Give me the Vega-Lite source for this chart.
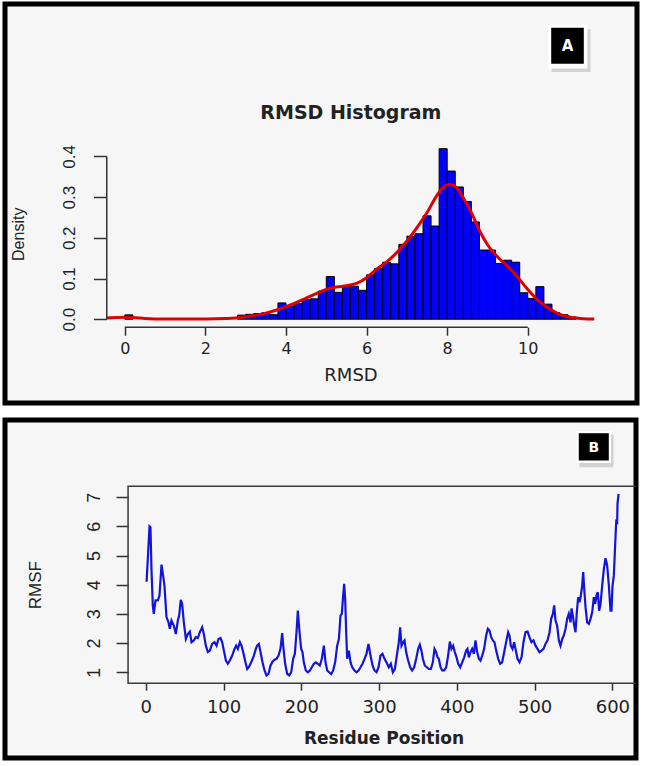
{
  "$schema": "https://vega.github.io/schema/vega-lite/v6.json",
  "background": "white",
  "padding": {"left": 2, "top": 1, "right": 3, "bottom": 3},
  "spacing": 17,
  "bounds": "flush",
  "config": {"axis": {"grid": false}},
  "vconcat": [
    {
      "width": 632,
      "height": 399,
      "view": {"fill": "#f6f6f6", "stroke": "black", "strokeWidth": 5},
      "layer": [
        {
          "data": {"values": [
            {"bin_start": 0.0, "bin_end": 0.2, "density": 0.0106},
            {"bin_start": 2.8, "bin_end": 3.0, "density": 0.010},
            {"bin_start": 3.0, "bin_end": 3.2, "density": 0.012},
            {"bin_start": 3.2, "bin_end": 3.4, "density": 0.014},
            {"bin_start": 3.4, "bin_end": 3.6, "density": 0.016},
            {"bin_start": 3.6, "bin_end": 3.8, "density": 0.011},
            {"bin_start": 3.8, "bin_end": 4.0, "density": 0.040},
            {"bin_start": 4.0, "bin_end": 4.2, "density": 0.032},
            {"bin_start": 4.2, "bin_end": 4.4, "density": 0.038},
            {"bin_start": 4.4, "bin_end": 4.6, "density": 0.048},
            {"bin_start": 4.6, "bin_end": 4.8, "density": 0.050},
            {"bin_start": 4.8, "bin_end": 5.0, "density": 0.069},
            {"bin_start": 5.0, "bin_end": 5.2, "density": 0.105},
            {"bin_start": 5.2, "bin_end": 5.4, "density": 0.066},
            {"bin_start": 5.4, "bin_end": 5.6, "density": 0.080},
            {"bin_start": 5.6, "bin_end": 5.8, "density": 0.081},
            {"bin_start": 5.8, "bin_end": 6.0, "density": 0.071},
            {"bin_start": 6.0, "bin_end": 6.2, "density": 0.109},
            {"bin_start": 6.2, "bin_end": 6.4, "density": 0.125},
            {"bin_start": 6.4, "bin_end": 6.6, "density": 0.140},
            {"bin_start": 6.6, "bin_end": 6.8, "density": 0.136},
            {"bin_start": 6.8, "bin_end": 7.0, "density": 0.184},
            {"bin_start": 7.0, "bin_end": 7.2, "density": 0.204},
            {"bin_start": 7.2, "bin_end": 7.4, "density": 0.210},
            {"bin_start": 7.4, "bin_end": 7.6, "density": 0.254},
            {"bin_start": 7.6, "bin_end": 7.8, "density": 0.229},
            {"bin_start": 7.8, "bin_end": 8.0, "density": 0.419},
            {"bin_start": 8.0, "bin_end": 8.2, "density": 0.364},
            {"bin_start": 8.2, "bin_end": 8.4, "density": 0.325},
            {"bin_start": 8.4, "bin_end": 8.6, "density": 0.289},
            {"bin_start": 8.6, "bin_end": 8.8, "density": 0.239},
            {"bin_start": 8.8, "bin_end": 9.0, "density": 0.170},
            {"bin_start": 9.0, "bin_end": 9.2, "density": 0.170},
            {"bin_start": 9.2, "bin_end": 9.4, "density": 0.137},
            {"bin_start": 9.4, "bin_end": 9.6, "density": 0.145},
            {"bin_start": 9.6, "bin_end": 9.8, "density": 0.140},
            {"bin_start": 9.8, "bin_end": 10.0, "density": 0.065},
            {"bin_start": 10.0, "bin_end": 10.2, "density": 0.051},
            {"bin_start": 10.2, "bin_end": 10.4, "density": 0.080},
            {"bin_start": 10.4, "bin_end": 10.6, "density": 0.037},
            {"bin_start": 10.6, "bin_end": 10.8, "density": 0.016},
            {"bin_start": 10.8, "bin_end": 11.0, "density": 0.011},
            {"bin_start": 11.0, "bin_end": 11.2, "density": 0.005}
          ]},
          "mark": {"type": "rect", "fill": "#0000ff", "stroke": "#000000", "strokeWidth": 1},
          "encoding": {
            "x": {"field": "bin_start", "type": "quantitative",
              "scale": {"domain": [-2.973, 12.71], "nice": false, "zero": false},
              "axis": {"values": [0, 2, 4, 6, 8, 10], "offset": -75.8, "domain": false, "grid": false,
                "tickSize": 8, "tickWidth": 1.5, "tickColor": "#333333",
                "labelFont": "DejaVu Sans", "labelFontSize": 16, "labelColor": "#222222", "labelPadding": 5.5,
                "labelFlush": false, "labelOverlap": false,
                "title": "RMSD", "titleFont": "DejaVu Sans", "titleFontSize": 18, "titleFontWeight": "normal",
                "titleColor": "#222222", "titleX": 345.5, "titleY": 48.6, "titleBaseline": "middle", "titleAlign": "center"}},
            "x2": {"field": "bin_end"},
            "y": {"field": "density", "type": "quantitative",
              "scale": {"domain": [-0.2059, 0.7745], "nice": false, "zero": false},
              "axis": {"values": [0, 0.1, 0.2, 0.3, 0.4], "format": ".1f", "offset": -101.5, "domain": false, "grid": false,
                "tickSize": 13, "tickWidth": 1.5, "tickColor": "#333333",
                "labelAngle": 270, "labelAlign": "center", "labelBaseline": "bottom", "labelPadding": 14.7,
                "labelFont": "Liberation Sans Narrow, Liberation Sans", "labelFontSize": 17, "labelColor": "#222222",
                "labelFlush": false, "labelOverlap": false,
                "title": "Density", "titleFont": "Liberation Sans Narrow, Liberation Sans", "titleFontSize": 16,
                "titleFontWeight": "normal", "titleColor": "#222222", "titleAngle": 270,
                "titleX": -88, "titleY": 229.8, "titleAlign": "center", "titleBaseline": "middle"}},
            "y2": {"datum": 0}
          }
        },
        {
          "data": {"values": [
            {"rmsd": -0.45, "density": 0.003}, {"rmsd": -0.2, "density": 0.004}, {"rmsd": 0.0, "density": 0.0045},
            {"rmsd": 0.2, "density": 0.004}, {"rmsd": 0.5, "density": 0.002}, {"rmsd": 1.0, "density": 0.0005},
            {"rmsd": 1.5, "density": 0.0002}, {"rmsd": 2.0, "density": 0.0003}, {"rmsd": 2.5, "density": 0.0015},
            {"rmsd": 2.75, "density": 0.003}, {"rmsd": 3.0, "density": 0.006}, {"rmsd": 3.25, "density": 0.010},
            {"rmsd": 3.5, "density": 0.015}, {"rmsd": 3.75, "density": 0.022}, {"rmsd": 4.0, "density": 0.031},
            {"rmsd": 4.25, "density": 0.041}, {"rmsd": 4.5, "density": 0.052}, {"rmsd": 4.75, "density": 0.063},
            {"rmsd": 5.0, "density": 0.073}, {"rmsd": 5.25, "density": 0.079}, {"rmsd": 5.5, "density": 0.082},
            {"rmsd": 5.75, "density": 0.088}, {"rmsd": 6.0, "density": 0.102}, {"rmsd": 6.25, "density": 0.123},
            {"rmsd": 6.5, "density": 0.141}, {"rmsd": 6.75, "density": 0.164}, {"rmsd": 7.0, "density": 0.192},
            {"rmsd": 7.25, "density": 0.225}, {"rmsd": 7.5, "density": 0.262}, {"rmsd": 7.75, "density": 0.305},
            {"rmsd": 7.9, "density": 0.324}, {"rmsd": 8.05, "density": 0.331}, {"rmsd": 8.2, "density": 0.326},
            {"rmsd": 8.4, "density": 0.298}, {"rmsd": 8.6, "density": 0.262}, {"rmsd": 8.8, "density": 0.218},
            {"rmsd": 9.0, "density": 0.183}, {"rmsd": 9.25, "density": 0.153}, {"rmsd": 9.5, "density": 0.130},
            {"rmsd": 9.75, "density": 0.103}, {"rmsd": 10.0, "density": 0.073}, {"rmsd": 10.25, "density": 0.047},
            {"rmsd": 10.5, "density": 0.028}, {"rmsd": 10.75, "density": 0.014}, {"rmsd": 11.0, "density": 0.006},
            {"rmsd": 11.25, "density": 0.0025}, {"rmsd": 11.5, "density": 0.0007}, {"rmsd": 11.65, "density": 0.0003}
          ]},
          "mark": {"type": "line", "color": "#e00000", "strokeWidth": 3, "interpolate": "monotone"},
          "encoding": {
            "x": {"field": "rmsd", "type": "quantitative", "scale": {"domain": [-2.973, 12.71], "nice": false, "zero": false}},
            "y": {"field": "density", "type": "quantitative", "scale": {"domain": [-0.2059, 0.7745], "nice": false, "zero": false}}
          }
        },
        {
          "data": {"values": [{}]},
          "mark": {"type": "rule", "color": "#333333", "strokeWidth": 1.5},
          "encoding": {
            "x": {"datum": 0, "type": "quantitative"},
            "x2": {"datum": 10},
            "y": {"datum": -0.0197, "type": "quantitative"}
          }
        },
        {
          "data": {"values": [{}]},
          "mark": {"type": "rule", "color": "#333333", "strokeWidth": 1.5},
          "encoding": {
            "x": {"datum": -0.448, "type": "quantitative"},
            "y": {"datum": 0, "type": "quantitative"},
            "y2": {"datum": 0.4}
          }
        },
        {
          "data": {"values": [{}]},
          "mark": {"type": "text", "text": "RMSD Histogram", "font": "DejaVu Sans", "fontWeight": "bold", "fontSize": 19, "color": "#222222", "align": "center", "baseline": "middle"},
          "encoding": {
            "x": {"datum": 5.61, "type": "quantitative"},
            "y": {"datum": 0.5075, "type": "quantitative"}
          }
        },
        {
          "data": {"values": [{}]},
          "mark": {"type": "rect", "fill": "#d2d2d2"},
          "encoding": {
            "x": {"datum": 10.588, "type": "quantitative"},
            "x2": {"datum": 11.556},
            "y": {"datum": 0.7122, "type": "quantitative"},
            "y2": {"datum": 0.6075}
          }
        },
        {
          "data": {"values": [{}]},
          "mark": {"type": "rect", "fill": "#ffffff"},
          "encoding": {
            "x": {"datum": 10.501, "type": "quantitative"},
            "x2": {"datum": 11.481},
            "y": {"datum": 0.7233, "type": "quantitative"},
            "y2": {"datum": 0.6163}
          }
        },
        {
          "data": {"values": [{}]},
          "mark": {"type": "rect", "fill": "#000000"},
          "encoding": {
            "x": {"datum": 10.581, "type": "quantitative"},
            "x2": {"datum": 11.39},
            "y": {"datum": 0.7164, "type": "quantitative"},
            "y2": {"datum": 0.6279}
          }
        },
        {
          "data": {"values": [{}]},
          "mark": {"type": "text", "text": "A", "font": "DejaVu Sans", "fontWeight": "bold", "fontSize": 15, "color": "#ffffff", "align": "center", "baseline": "middle"},
          "encoding": {
            "x": {"datum": 10.985, "type": "quantitative"},
            "y": {"datum": 0.6717, "type": "quantitative"}
          }
        }
      ]
    },
    {
      "width": 631,
      "height": 338,
      "view": {"fill": "#f6f6f6", "stroke": "black", "strokeWidth": 5},
      "layer": [
        {
          "data": {"values": [
            {"residue": 1, "rmsf": 4.1}, {"residue": 3, "rmsf": 5.1}, {"residue": 4.8, "rmsf": 6.0}, {"residue": 6, "rmsf": 5.97},
            {"residue": 7.3, "rmsf": 4.54}, {"residue": 9, "rmsf": 3.29}, {"residue": 10.3, "rmsf": 3.0}, {"residue": 12.5, "rmsf": 3.46},
            {"residue": 15.5, "rmsf": 3.46}, {"residue": 17.6, "rmsf": 3.63}, {"residue": 20.2, "rmsf": 4.69}, {"residue": 22.3, "rmsf": 4.31},
            {"residue": 24, "rmsf": 3.97}, {"residue": 26.6, "rmsf": 2.89}, {"residue": 29.2, "rmsf": 2.71}, {"residue": 30.9, "rmsf": 2.49},
            {"residue": 33, "rmsf": 2.77}, {"residue": 36, "rmsf": 2.6}, {"residue": 38.6, "rmsf": 2.31}, {"residue": 41.2, "rmsf": 2.77},
            {"residue": 42.9, "rmsf": 2.94}, {"residue": 45, "rmsf": 3.48}, {"residue": 46.8, "rmsf": 3.34}, {"residue": 48.9, "rmsf": 2.71},
            {"residue": 51.5, "rmsf": 2.14}, {"residue": 54.1, "rmsf": 2.31}, {"residue": 56.6, "rmsf": 2.39}, {"residue": 58.8, "rmsf": 2.03},
            {"residue": 61.8, "rmsf": 2.09}, {"residue": 64.3, "rmsf": 2.2}, {"residue": 66.9, "rmsf": 2.17}, {"residue": 69.5, "rmsf": 2.37},
            {"residue": 72.5, "rmsf": 2.54}, {"residue": 74.6, "rmsf": 2.31}, {"residue": 77.2, "rmsf": 1.91}, {"residue": 79.8, "rmsf": 1.69},
            {"residue": 82.4, "rmsf": 1.74}, {"residue": 85.3, "rmsf": 1.97}, {"residue": 88.4, "rmsf": 2.03}, {"residue": 91, "rmsf": 1.91},
            {"residue": 93.5, "rmsf": 2.14}, {"residue": 96.1, "rmsf": 2.17}, {"residue": 98.2, "rmsf": 2.03}, {"residue": 100.4, "rmsf": 1.74},
            {"residue": 103, "rmsf": 1.4}, {"residue": 105.5, "rmsf": 1.29}, {"residue": 108.1, "rmsf": 1.4}, {"residue": 111.1, "rmsf": 1.57},
            {"residue": 114.1, "rmsf": 1.8}, {"residue": 116.2, "rmsf": 1.91}, {"residue": 118.4, "rmsf": 1.8}, {"residue": 121, "rmsf": 2.03},
            {"residue": 123.1, "rmsf": 1.91}, {"residue": 125.2, "rmsf": 1.69}, {"residue": 128.2, "rmsf": 1.34}, {"residue": 130.4, "rmsf": 1.11},
            {"residue": 132.5, "rmsf": 1.17}, {"residue": 135.5, "rmsf": 1.34}, {"residue": 139, "rmsf": 1.57}, {"residue": 141.5, "rmsf": 1.8},
            {"residue": 143.2, "rmsf": 1.91}, {"residue": 145.4, "rmsf": 1.97}, {"residue": 147.5, "rmsf": 1.69}, {"residue": 150.1, "rmsf": 1.34},
            {"residue": 152.7, "rmsf": 1.06}, {"residue": 155.2, "rmsf": 0.89}, {"residue": 157.8, "rmsf": 0.94}, {"residue": 160.4, "rmsf": 1.23},
            {"residue": 163, "rmsf": 1.36}, {"residue": 165.5, "rmsf": 1.43}, {"residue": 168.1, "rmsf": 1.46}, {"residue": 170.7, "rmsf": 1.57},
            {"residue": 173.2, "rmsf": 1.8}, {"residue": 175.4, "rmsf": 2.34}, {"residue": 177.1, "rmsf": 1.8}, {"residue": 179.2, "rmsf": 1.29},
            {"residue": 181.8, "rmsf": 0.94}, {"residue": 184.4, "rmsf": 0.89}, {"residue": 187, "rmsf": 1.0}, {"residue": 189.5, "rmsf": 1.46},
            {"residue": 191.7, "rmsf": 1.63}, {"residue": 193.8, "rmsf": 2.37}, {"residue": 195.5, "rmsf": 3.11}, {"residue": 197.7, "rmsf": 2.37},
            {"residue": 199.8, "rmsf": 1.8}, {"residue": 201.5, "rmsf": 1.69}, {"residue": 203.2, "rmsf": 1.34}, {"residue": 205.8, "rmsf": 1.06},
            {"residue": 208.4, "rmsf": 1.0}, {"residue": 211, "rmsf": 1.06}, {"residue": 213.5, "rmsf": 1.17}, {"residue": 216.1, "rmsf": 1.29},
            {"residue": 218.7, "rmsf": 1.34}, {"residue": 221.2, "rmsf": 1.29}, {"residue": 223.8, "rmsf": 1.23}, {"residue": 226.4, "rmsf": 1.46},
            {"residue": 229, "rmsf": 1.91}, {"residue": 231.1, "rmsf": 1.34}, {"residue": 233.3, "rmsf": 1.06}, {"residue": 235.8, "rmsf": 1.0},
            {"residue": 238.4, "rmsf": 0.94}, {"residue": 241, "rmsf": 1.06}, {"residue": 243.5, "rmsf": 1.34}, {"residue": 246.1, "rmsf": 1.91},
            {"residue": 248.3, "rmsf": 2.14}, {"residue": 250.4, "rmsf": 2.94}, {"residue": 252.1, "rmsf": 3.0}, {"residue": 253.8, "rmsf": 3.63},
            {"residue": 255.1, "rmsf": 4.03}, {"residue": 256.4, "rmsf": 3.51}, {"residue": 257.7, "rmsf": 2.37}, {"residue": 259, "rmsf": 1.46},
            {"residue": 261.1, "rmsf": 1.74}, {"residue": 263.3, "rmsf": 1.34}, {"residue": 265.4, "rmsf": 1.17}, {"residue": 268.4, "rmsf": 1.06},
            {"residue": 271, "rmsf": 1.0}, {"residue": 273.6, "rmsf": 1.06}, {"residue": 276.1, "rmsf": 1.17}, {"residue": 278.7, "rmsf": 1.29},
            {"residue": 281.3, "rmsf": 1.46}, {"residue": 283.8, "rmsf": 1.63}, {"residue": 286.4, "rmsf": 1.97}, {"residue": 289, "rmsf": 1.57},
            {"residue": 291.6, "rmsf": 1.23}, {"residue": 294.1, "rmsf": 1.06}, {"residue": 296.7, "rmsf": 1.0}, {"residue": 299.3, "rmsf": 1.17},
            {"residue": 301.8, "rmsf": 1.57}, {"residue": 304.4, "rmsf": 1.63}, {"residue": 307, "rmsf": 1.46}, {"residue": 310.4, "rmsf": 1.29},
            {"residue": 312.5, "rmsf": 1.17}, {"residue": 315.1, "rmsf": 1.29}, {"residue": 317.7, "rmsf": 1.0}, {"residue": 320.3, "rmsf": 1.11},
            {"residue": 322.8, "rmsf": 1.57}, {"residue": 325.4, "rmsf": 2.03}, {"residue": 327.1, "rmsf": 2.54}, {"residue": 328.8, "rmsf": 1.91},
            {"residue": 331, "rmsf": 2.03}, {"residue": 332.7, "rmsf": 2.09}, {"residue": 334.8, "rmsf": 1.69}, {"residue": 337.4, "rmsf": 1.4},
            {"residue": 340, "rmsf": 1.17}, {"residue": 342.5, "rmsf": 1.06}, {"residue": 345.1, "rmsf": 1.17}, {"residue": 347.7, "rmsf": 1.46},
            {"residue": 350.3, "rmsf": 1.8}, {"residue": 352.4, "rmsf": 1.94}, {"residue": 354.5, "rmsf": 1.74}, {"residue": 356.3, "rmsf": 1.46},
            {"residue": 358.8, "rmsf": 1.23}, {"residue": 361.4, "rmsf": 1.17}, {"residue": 364, "rmsf": 1.11}, {"residue": 366.6, "rmsf": 1.11},
            {"residue": 369.1, "rmsf": 1.34}, {"residue": 371.3, "rmsf": 1.8}, {"residue": 373.4, "rmsf": 1.69}, {"residue": 375.1, "rmsf": 1.51},
            {"residue": 376.8, "rmsf": 1.46}, {"residue": 379, "rmsf": 1.17}, {"residue": 381.1, "rmsf": 1.06}, {"residue": 383.7, "rmsf": 1.06},
            {"residue": 386.3, "rmsf": 1.17}, {"residue": 388.8, "rmsf": 1.57}, {"residue": 391, "rmsf": 2.05}, {"residue": 393.1, "rmsf": 1.8},
            {"residue": 395.3, "rmsf": 1.91}, {"residue": 397.4, "rmsf": 1.69}, {"residue": 399.6, "rmsf": 1.51}, {"residue": 401.7, "rmsf": 1.29},
            {"residue": 404.3, "rmsf": 1.17}, {"residue": 406.9, "rmsf": 1.34}, {"residue": 409.4, "rmsf": 1.51}, {"residue": 412, "rmsf": 1.74},
            {"residue": 413.7, "rmsf": 1.8}, {"residue": 415.4, "rmsf": 1.51}, {"residue": 417.6, "rmsf": 1.69}, {"residue": 419.7, "rmsf": 1.8},
            {"residue": 421.9, "rmsf": 1.63}, {"residue": 424, "rmsf": 2.09}, {"residue": 426.1, "rmsf": 1.69}, {"residue": 428.3, "rmsf": 1.46},
            {"residue": 430.4, "rmsf": 1.4}, {"residue": 432.6, "rmsf": 1.57}, {"residue": 435.1, "rmsf": 1.8}, {"residue": 437.7, "rmsf": 2.26},
            {"residue": 439.9, "rmsf": 2.49}, {"residue": 442, "rmsf": 2.43}, {"residue": 444.2, "rmsf": 2.2}, {"residue": 446.3, "rmsf": 2.09},
            {"residue": 448.4, "rmsf": 2.03}, {"residue": 450.6, "rmsf": 1.74}, {"residue": 453.2, "rmsf": 1.46}, {"residue": 455.7, "rmsf": 1.29},
            {"residue": 458.3, "rmsf": 1.34}, {"residue": 460.9, "rmsf": 1.69}, {"residue": 463.4, "rmsf": 2.03}, {"residue": 466, "rmsf": 2.37},
            {"residue": 467.7, "rmsf": 2.26}, {"residue": 469.4, "rmsf": 1.91}, {"residue": 471.6, "rmsf": 1.8}, {"residue": 473.7, "rmsf": 2.03},
            {"residue": 475.9, "rmsf": 1.74}, {"residue": 478, "rmsf": 1.46}, {"residue": 480.6, "rmsf": 1.34}, {"residue": 483.2, "rmsf": 1.51},
            {"residue": 485.7, "rmsf": 2.03}, {"residue": 488.3, "rmsf": 2.37}, {"residue": 490.9, "rmsf": 2.39}, {"residue": 493.4, "rmsf": 2.2},
            {"residue": 496, "rmsf": 2.03}, {"residue": 498.6, "rmsf": 2.09}, {"residue": 501.2, "rmsf": 1.91}, {"residue": 503.7, "rmsf": 1.8},
            {"residue": 506.3, "rmsf": 1.69}, {"residue": 508.9, "rmsf": 1.74}, {"residue": 511.5, "rmsf": 1.8}, {"residue": 514, "rmsf": 1.97},
            {"residue": 516.6, "rmsf": 2.09}, {"residue": 519.2, "rmsf": 2.37}, {"residue": 521.3, "rmsf": 2.83}, {"residue": 523.5, "rmsf": 3.0},
            {"residue": 525.2, "rmsf": 3.29}, {"residue": 526.9, "rmsf": 2.77}, {"residue": 529, "rmsf": 2.6}, {"residue": 531.2, "rmsf": 2.09},
            {"residue": 533.3, "rmsf": 1.91}, {"residue": 535.5, "rmsf": 2.14}, {"residue": 537.6, "rmsf": 2.26}, {"residue": 539.8, "rmsf": 2.49},
            {"residue": 541.9, "rmsf": 2.83}, {"residue": 544, "rmsf": 3.0}, {"residue": 546.2, "rmsf": 2.71}, {"residue": 547.5, "rmsf": 3.19},
            {"residue": 549.2, "rmsf": 2.94}, {"residue": 550.9, "rmsf": 2.6}, {"residue": 552.6, "rmsf": 2.37}, {"residue": 554.3, "rmsf": 3.06},
            {"residue": 556, "rmsf": 3.57}, {"residue": 557.8, "rmsf": 3.4}, {"residue": 559.5, "rmsf": 3.63}, {"residue": 561.2, "rmsf": 3.97},
            {"residue": 562.5, "rmsf": 4.43}, {"residue": 563.8, "rmsf": 3.86}, {"residue": 565.5, "rmsf": 3.23}, {"residue": 567.6, "rmsf": 2.71},
            {"residue": 569.8, "rmsf": 2.66}, {"residue": 571.9, "rmsf": 2.83}, {"residue": 574.1, "rmsf": 3.06}, {"residue": 576.2, "rmsf": 3.57},
            {"residue": 577.9, "rmsf": 3.34}, {"residue": 579.6, "rmsf": 3.63}, {"residue": 581.3, "rmsf": 3.74}, {"residue": 583, "rmsf": 3.11},
            {"residue": 584.8, "rmsf": 3.34}, {"residue": 586.9, "rmsf": 3.97}, {"residue": 589.1, "rmsf": 4.54}, {"residue": 591.2, "rmsf": 4.91},
            {"residue": 593.3, "rmsf": 4.66}, {"residue": 595.5, "rmsf": 3.97}, {"residue": 597.6, "rmsf": 3.11}, {"residue": 598.9, "rmsf": 3.11},
            {"residue": 600.2, "rmsf": 3.97}, {"residue": 601.9, "rmsf": 4.31}, {"residue": 603.2, "rmsf": 5.11}, {"residue": 604.5, "rmsf": 5.91},
            {"residue": 605, "rmsf": 6.17}, {"residue": 606.2, "rmsf": 6.14}, {"residue": 606.6, "rmsf": 6.77}, {"residue": 608, "rmsf": 7.11}
          ]},
          "mark": {"type": "line", "color": "#1414d8", "strokeWidth": 2.2},
          "encoding": {
            "x": {"field": "residue", "type": "quantitative",
              "scale": {"domain": [-181.07, 630.4], "nice": false, "zero": false},
              "axis": {"values": [0, 100, 200, 300, 400, 500, 600], "offset": -74.8, "domain": false, "grid": false,
                "tickSize": 7, "tickWidth": 1.5, "tickColor": "#333333",
                "labelFont": "DejaVu Sans", "labelFontSize": 18, "labelColor": "#222222", "labelPadding": 8.6,
                "labelFlush": false, "labelOverlap": false,
                "title": "Residue Position", "titleFont": "DejaVu Sans", "titleFontSize": 17, "titleFontWeight": "bold",
                "titleColor": "#222222", "titleX": 378.5, "titleY": 55, "titleBaseline": "middle", "titleAlign": "center"}},
            "y": {"field": "rmsf", "type": "quantitative",
              "scale": {"domain": [-1.941, 9.646], "nice": false, "zero": false},
              "axis": {"values": [1, 2, 3, 4, 5, 6, 7], "offset": -123.1, "domain": false, "grid": false,
                "tickSize": 12, "tickWidth": 1.5, "tickColor": "#333333",
                "labelAngle": 270, "labelAlign": "center", "labelBaseline": "bottom", "labelPadding": 12.6,
                "labelFont": "Liberation Sans Narrow, Liberation Sans", "labelFontSize": 18, "labelColor": "#222222",
                "labelFlush": false, "labelOverlap": false,
                "title": "RMSF", "titleFont": "Liberation Sans Narrow, Liberation Sans", "titleFontSize": 17,
                "titleFontWeight": "normal", "titleColor": "#222222", "titleAngle": 270,
                "titleX": -92.6, "titleY": 164.7, "titleAlign": "center", "titleBaseline": "middle"}}
          }
        },
        {
          "data": {"values": [{}]},
          "mark": {"type": "rect", "fillOpacity": 0, "stroke": "#3a3a3a", "strokeWidth": 1.5, "clip": true},
          "encoding": {
            "x": {"datum": -22.8, "type": "quantitative"},
            "x2": {"datum": 660},
            "y": {"datum": 0.623, "type": "quantitative"},
            "y2": {"datum": 7.376}
          }
        },
        {
          "data": {"values": [{}]},
          "mark": {"type": "rect", "fill": "#d2d2d2"},
          "encoding": {
            "x": {"datum": 557.7, "type": "quantitative"},
            "x2": {"datum": 601.5},
            "y": {"datum": 9.149, "type": "quantitative"},
            "y2": {"datum": 8.028}
          }
        },
        {
          "data": {"values": [{}]},
          "mark": {"type": "rect", "fill": "#ffffff"},
          "encoding": {
            "x": {"datum": 553.9, "type": "quantitative"},
            "x2": {"datum": 598.3},
            "y": {"datum": 9.269, "type": "quantitative"},
            "y2": {"datum": 8.172}
          }
        },
        {
          "data": {"values": [{}]},
          "mark": {"type": "rect", "fill": "#000000"},
          "encoding": {
            "x": {"datum": 556.8, "type": "quantitative"},
            "x2": {"datum": 595.4},
            "y": {"datum": 9.193, "type": "quantitative"},
            "y2": {"datum": 8.258}
          }
        },
        {
          "data": {"values": [{}]},
          "mark": {"type": "text", "text": "B", "font": "DejaVu Sans", "fontWeight": "bold", "fontSize": 14, "color": "#ffffff", "align": "center", "baseline": "middle"},
          "encoding": {
            "x": {"datum": 576.1, "type": "quantitative"},
            "y": {"datum": 8.703, "type": "quantitative"}
          }
        }
      ]
    }
  ]
}
